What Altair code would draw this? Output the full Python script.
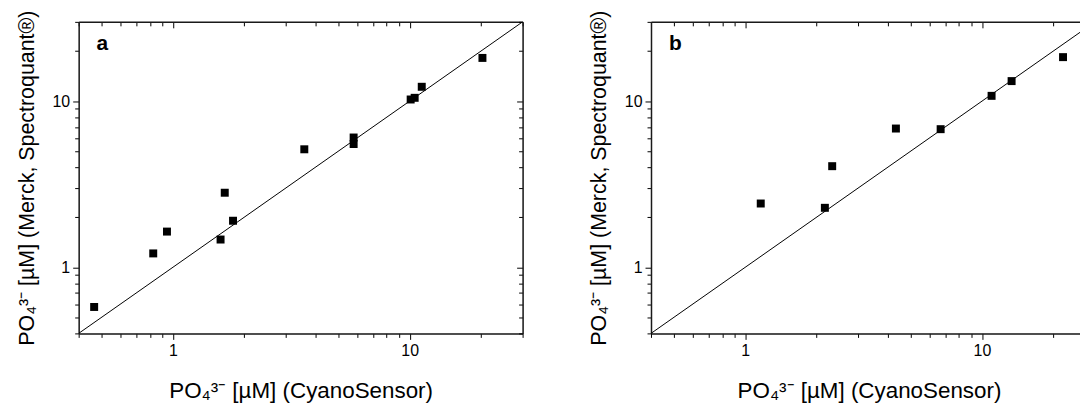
import altair as alt
import pandas as pd

# ---- data ----
A_X = [0.465, 0.826, 0.944, 1.59, 1.656, 1.795, 3.59, 5.80, 5.80, 10.1, 10.5, 11.25, 20.3]
A_Y = [0.577, 1.212, 1.64, 1.469, 2.81, 1.906, 5.13, 6.04, 5.52, 10.23, 10.47, 12.2, 18.2]
B_X = [1.163, 2.17, 2.33, 4.33, 6.69, 10.98, 13.34, 22.0]
B_Y = [2.42, 2.28, 4.06, 6.84, 6.78, 10.76, 13.2, 18.4]
PANEL_LABELS = ["a", "b"]
DOMAIN = [0.4, 30]
MAJOR = [1, 10]
MINOR = [0.4, 0.5, 0.6, 0.7, 0.8, 0.9, 2, 3, 4, 5, 6, 7, 8, 9, 20, 30]
X_TITLE = "PO₄³⁻ [µM] (CyanoSensor)"
Y_TITLE = "PO₄³⁻ [µM] (Merck, Spectroquant®)"

FONT = "Liberation Sans"
BORDER = "#1a1a1a"
W, H = 446, 313
W_B = 438  # panel b is cut off at the right edge of the picture, as in the reference
TICKS = sorted(MAJOR + MINOR)
MAJOR_TEST = " || ".join(f"datum.value == {v}" for v in MAJOR)
LABEL_EXPR = f"({MAJOR_TEST}) ? datum.label : ''"


def make_axis(orient, inward, ticks, title_padding=0, title_size=22):
    s = -1 if inward else 1
    kw = dict(
        orient=orient,
        values=ticks,
        grid=False,
        domain=True,
        domainColor=BORDER,
        domainWidth=1.5,
        tickColor="black",
        tickWidth=1,
        tickSize={"condition": {"test": MAJOR_TEST, "value": 6 * s}, "value": 4 * s},
    )
    if inward:
        kw.update(labels=False)
    else:
        kw.update(
            labelExpr=LABEL_EXPR,
            labelFont=FONT,
            labelFontSize=16,
            labelColor="black",
            labelPadding=3,
            labelOverlap=False,
            titleFont=FONT,
            titleFontSize=title_size,
            titleFontWeight="normal",
            titleColor="black",
            titlePadding=title_padding,
        )
    return alt.Axis(**kw)


def panel(xs, ys, label, width, right_axis):
    x_max = DOMAIN[0] * (DOMAIN[1] / DOMAIN[0]) ** (width / W)
    x_ticks = [t for t in TICKS if t <= x_max * 1.0001]
    xscale = alt.Scale(type="log", domain=[DOMAIN[0], x_max], nice=False)
    yscale = alt.Scale(type="log", domain=DOMAIN, nice=False)
    pts = pd.DataFrame({"x": xs, "y": ys})
    diag = pd.DataFrame({"x": DOMAIN, "y": DOMAIN})

    points = alt.Chart(pts).mark_square(size=64, color="black", opacity=1).encode(
        x=alt.X("x:Q", scale=xscale, axis=make_axis("bottom", False, x_ticks, 21, 22.5), title=X_TITLE),
        y=alt.Y("y:Q", scale=yscale, axis=make_axis("left", False, TICKS, 14, 21.5), title=Y_TITLE),
    )
    y_top = alt.Y("y:Q", scale=yscale, title=None,
                  axis=make_axis("right", True, TICKS) if right_axis else None)
    line = alt.Chart(diag).mark_line(color="black", strokeWidth=1, clip=True).encode(
        x=alt.X("x:Q", scale=xscale, axis=make_axis("top", True, x_ticks), title=None),
        y=y_top,
    )
    text = alt.Chart(pd.DataFrame({"t": [label]})).mark_text(
        font=FONT, fontSize=21, fontWeight="bold", align="left", baseline="alphabetic", color="black"
    ).encode(text="t:N", x=alt.value(18), y=alt.value(28))

    return alt.layer(line, points, text).resolve_axis(x="independent", y="independent").properties(
        width=width, height=H
    )


chart = alt.hconcat(
    panel(A_X, A_Y, PANEL_LABELS[0], W, True),
    panel(B_X, B_Y, PANEL_LABELS[1], W_B, False),
    spacing=64,
).properties(
    padding={"left": 7, "top": 0, "right": -8, "bottom": 0}
).configure_view(
    strokeWidth=0
).configure(background="white")

chart.save("out.html", embed_options={"renderer": "svg", "actions": False})
